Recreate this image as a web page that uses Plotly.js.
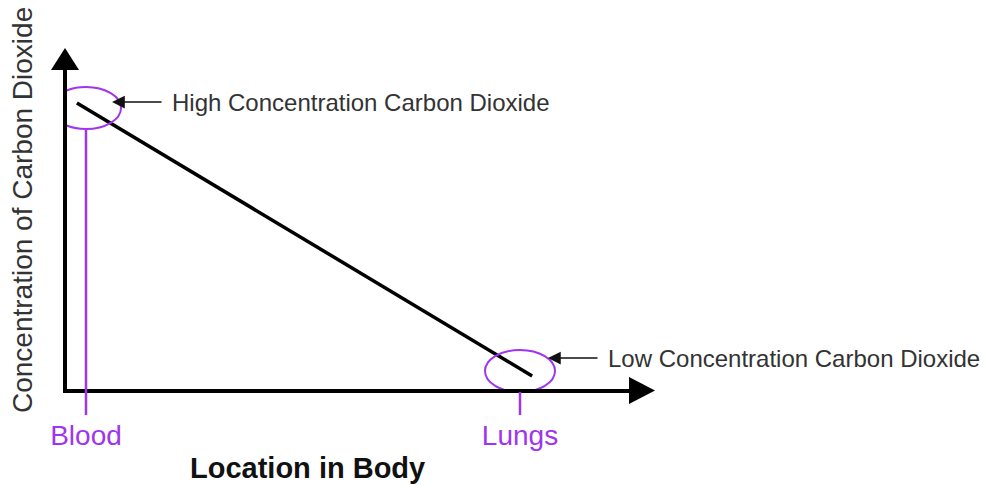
<!DOCTYPE html>
<html>
<head>
<meta charset="utf-8">
<script src="https://cdn.plot.ly/plotly-3.0.1.min.js"></script>
<style>html,body{margin:0;padding:0;background:#fff;}#chart{width:986px;height:485px;}</style>
</head>
<body>
<div id="chart"></div>
<script>
// ---- data ----
const locations = ['Blood', 'Lungs'];          // x tick labels
const locationPos = [0, 1];                     // category positions on the x axis
const co2Level = [10, 0.64];                    // CO2 concentration at each location (circled)
const gradientX = [-0.021, 1.028];              // ends of the concentration line
const gradientY = [10.18, 0.46];
const calloutText = ['High Concentration Carbon Dioxide', 'Low Concentration Carbon Dioxide'];
const calloutX = [0.06, 1.0645];                // where each callout arrow points
const calloutY = [10.21, 1.10];
const xTitle = 'Location in Body';
const yTitle = 'Concentration of Carbon Dioxide';

// ---- layout constants ----
const W = 986, H = 485;
const L = 67, R = 629, T = 70, B = 389;
const plotW = R - L, plotH = B - T;
const xRange = [-0.04378, 1.25115];
const yRange = [0, 11.352];
const pxPerUnit = plotH / (yRange[1] - yRange[0]);
const purple = '#a035ee';
const font = 'Liberation Sans, Arial, Helvetica, sans-serif';
const px = p => (p - L) / plotW;
const py = p => (B - p) / plotH;

const traces = [{
  type: 'scatter', mode: 'lines',
  x: gradientX, y: gradientY,
  line: {color: '#000', width: 3.5},
  hoverinfo: 'skip', showlegend: false
}];

const shapes = [];
locationPos.forEach((xp, i) => {
  shapes.push({
    type: 'circle', xref: 'x', yref: 'y',
    xsizemode: 'pixel', ysizemode: 'pixel',
    xanchor: xp, yanchor: co2Level[i],
    x0: -35, x1: 35, y0: -21, y1: 21,
    line: {color: purple, width: 2}
  });
  shapes.push({
    type: 'line', xref: 'x', yref: 'paper',
    ysizemode: 'pixel', yanchor: 0,
    x0: xp, x1: xp,
    y0: -26, y1: co2Level[i] * pxPerUnit - 21,
    line: {color: purple, width: 2.5}
  });
});
// axis arrowheads
shapes.push({
  type: 'path', xref: 'paper', yref: 'paper',
  path: `M${px(51)},${py(70)} L${px(79)},${py(70)} L${px(65)},${py(48)} Z`,
  fillcolor: '#000', line: {width: 0}
});
shapes.push({
  type: 'path', xref: 'paper', yref: 'paper',
  path: `M${px(629)},${py(377)} L${px(629)},${py(404)} L${px(655)},${py(390.5)} Z`,
  fillcolor: '#000', line: {width: 0}
});

const annotations = [];
const calloutAx = [249, 246];
calloutText.forEach((t, i) => {
  annotations.push({
    xref: 'x', yref: 'y', x: calloutX[i], y: calloutY[i],
    text: t, showarrow: true, ax: calloutAx[i], ay: 0,
    arrowhead: 2, arrowsize: 1.7, arrowwidth: 1.5, arrowcolor: '#111',
    borderpad: 10,
    font: {family: font, size: 24, color: '#333'}
  });
});
annotations.push({
  xref: 'paper', yref: 'paper', x: px(22), y: py(210),
  xanchor: 'center', yanchor: 'middle', textangle: -90,
  text: yTitle, showarrow: false,
  font: {family: font, size: 28, color: '#333'}
});
annotations.push({
  xref: 'paper', yref: 'paper', x: px(307), y: py(468),
  xanchor: 'center', yanchor: 'middle',
  text: '<b>' + xTitle + '</b>', showarrow: false,
  font: {family: font, size: 29, color: '#111'}
});

const layout = {
  width: W, height: H,
  margin: {l: L, r: W - R, t: T, b: H - B, pad: 0},
  paper_bgcolor: '#fff', plot_bgcolor: '#fff',
  showlegend: false,
  xaxis: {
    range: xRange, showline: true, linewidth: 4, linecolor: '#000',
    showgrid: false, zeroline: false, ticks: '',
    tickvals: locationPos, ticktext: locations,
    tickfont: {family: font, size: 28, color: purple},
    ticklabelstandoff: 18, fixedrange: true
  },
  yaxis: {
    range: yRange, showline: true, linewidth: 4, linecolor: '#000',
    showgrid: false, zeroline: false, ticks: '', showticklabels: false,
    fixedrange: true
  },
  shapes: shapes,
  annotations: annotations
};

Plotly.newPlot('chart', traces, layout, {displayModeBar: false, staticPlot: true});
</script>
</body>
</html>
